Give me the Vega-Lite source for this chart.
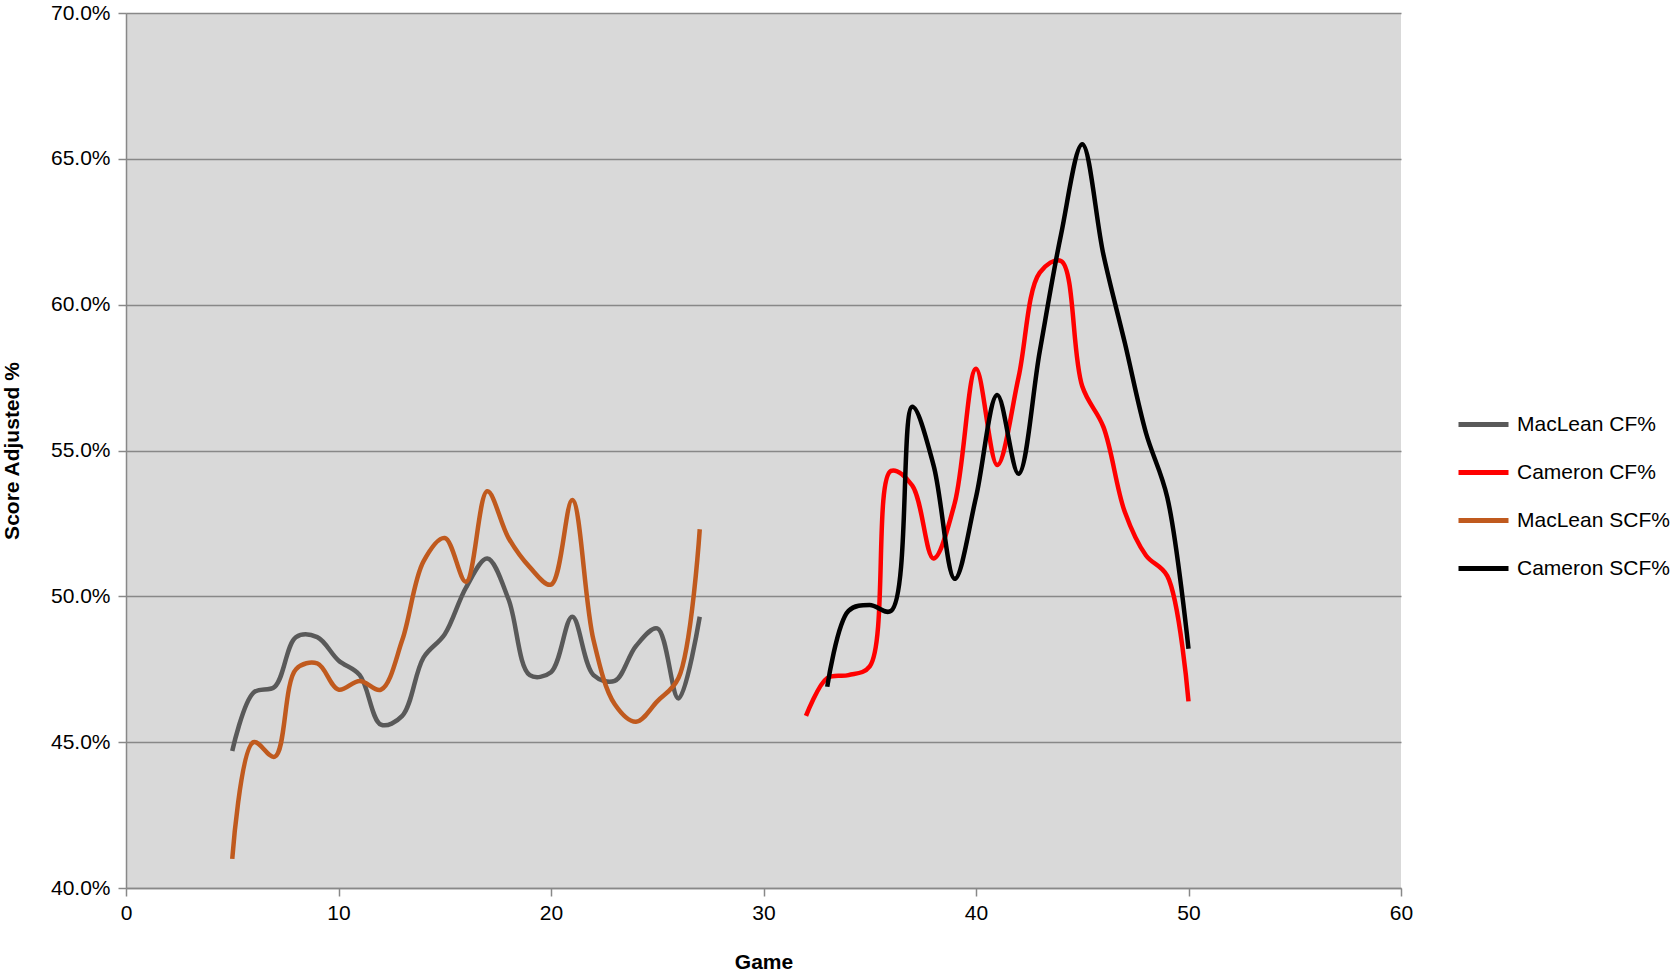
{
  "$schema": "https://vega.github.io/schema/vega-lite/v6.json",
  "width": 1275,
  "height": 875,
  "autosize": {"type": "none"},
  "padding": {"left": 126, "top": 13, "right": 272, "bottom": 88},
  "background": "white",
  "config": {
    "view": {"fill": "#d9d9d9", "stroke": null},
    "font": "Liberation Sans"
  },
  "data": {
    "values": [
      {"game": 5, "series": "MacLean CF%", "value": 44.7},
      {"game": 6, "series": "MacLean CF%", "value": 46.7},
      {"game": 7, "series": "MacLean CF%", "value": 46.9},
      {"game": 8, "series": "MacLean CF%", "value": 48.6},
      {"game": 9, "series": "MacLean CF%", "value": 48.6},
      {"game": 10, "series": "MacLean CF%", "value": 47.8},
      {"game": 11, "series": "MacLean CF%", "value": 47.3},
      {"game": 12, "series": "MacLean CF%", "value": 45.6},
      {"game": 13, "series": "MacLean CF%", "value": 45.9},
      {"game": 14, "series": "MacLean CF%", "value": 47.9},
      {"game": 15, "series": "MacLean CF%", "value": 48.7},
      {"game": 16, "series": "MacLean CF%", "value": 50.3},
      {"game": 17, "series": "MacLean CF%", "value": 51.3},
      {"game": 18, "series": "MacLean CF%", "value": 49.9},
      {"game": 19, "series": "MacLean CF%", "value": 47.3},
      {"game": 20, "series": "MacLean CF%", "value": 47.4},
      {"game": 21, "series": "MacLean CF%", "value": 49.3},
      {"game": 22, "series": "MacLean CF%", "value": 47.3},
      {"game": 23, "series": "MacLean CF%", "value": 47.1},
      {"game": 24, "series": "MacLean CF%", "value": 48.3},
      {"game": 25, "series": "MacLean CF%", "value": 48.9},
      {"game": 26, "series": "MacLean CF%", "value": 46.5},
      {"game": 27, "series": "MacLean CF%", "value": 49.3},
      {"game": 5, "series": "MacLean SCF%", "value": 41.0},
      {"game": 6, "series": "MacLean SCF%", "value": 45.0},
      {"game": 7, "series": "MacLean SCF%", "value": 44.5},
      {"game": 8, "series": "MacLean SCF%", "value": 47.5},
      {"game": 9, "series": "MacLean SCF%", "value": 47.7},
      {"game": 10, "series": "MacLean SCF%", "value": 46.8},
      {"game": 11, "series": "MacLean SCF%", "value": 47.1},
      {"game": 12, "series": "MacLean SCF%", "value": 46.8},
      {"game": 13, "series": "MacLean SCF%", "value": 48.5},
      {"game": 14, "series": "MacLean SCF%", "value": 51.2},
      {"game": 15, "series": "MacLean SCF%", "value": 52.0},
      {"game": 16, "series": "MacLean SCF%", "value": 50.5},
      {"game": 17, "series": "MacLean SCF%", "value": 53.6},
      {"game": 18, "series": "MacLean SCF%", "value": 52.0},
      {"game": 19, "series": "MacLean SCF%", "value": 51.0},
      {"game": 20, "series": "MacLean SCF%", "value": 50.4},
      {"game": 21, "series": "MacLean SCF%", "value": 53.3},
      {"game": 22, "series": "MacLean SCF%", "value": 48.5},
      {"game": 23, "series": "MacLean SCF%", "value": 46.3},
      {"game": 24, "series": "MacLean SCF%", "value": 45.7},
      {"game": 25, "series": "MacLean SCF%", "value": 46.4},
      {"game": 26, "series": "MacLean SCF%", "value": 47.2},
      {"game": 27, "series": "MacLean SCF%", "value": 52.3},
      {"game": 32, "series": "Cameron CF%", "value": 45.9},
      {"game": 33, "series": "Cameron CF%", "value": 47.2},
      {"game": 34, "series": "Cameron CF%", "value": 47.3},
      {"game": 35, "series": "Cameron CF%", "value": 47.6},
      {"game": 36, "series": "Cameron CF%", "value": 54.3},
      {"game": 37, "series": "Cameron CF%", "value": 53.8},
      {"game": 38, "series": "Cameron CF%", "value": 51.3},
      {"game": 39, "series": "Cameron CF%", "value": 53.2},
      {"game": 40, "series": "Cameron CF%", "value": 57.8},
      {"game": 41, "series": "Cameron CF%", "value": 54.5},
      {"game": 42, "series": "Cameron CF%", "value": 57.5},
      {"game": 43, "series": "Cameron CF%", "value": 61.1},
      {"game": 44, "series": "Cameron CF%", "value": 61.5},
      {"game": 45, "series": "Cameron CF%", "value": 57.2},
      {"game": 46, "series": "Cameron CF%", "value": 55.8},
      {"game": 47, "series": "Cameron CF%", "value": 52.9},
      {"game": 48, "series": "Cameron CF%", "value": 51.4},
      {"game": 49, "series": "Cameron CF%", "value": 50.7},
      {"game": 50, "series": "Cameron CF%", "value": 46.4},
      {"game": 33, "series": "Cameron SCF%", "value": 46.9},
      {"game": 34, "series": "Cameron SCF%", "value": 49.5},
      {"game": 35, "series": "Cameron SCF%", "value": 49.7},
      {"game": 36, "series": "Cameron SCF%", "value": 49.5},
      {"game": 37, "series": "Cameron SCF%", "value": 56.5},
      {"game": 38, "series": "Cameron SCF%", "value": 54.5},
      {"game": 39, "series": "Cameron SCF%", "value": 50.6},
      {"game": 40, "series": "Cameron SCF%", "value": 53.4},
      {"game": 41, "series": "Cameron SCF%", "value": 56.9},
      {"game": 42, "series": "Cameron SCF%", "value": 54.2},
      {"game": 43, "series": "Cameron SCF%", "value": 58.4},
      {"game": 44, "series": "Cameron SCF%", "value": 62.4},
      {"game": 45, "series": "Cameron SCF%", "value": 65.5},
      {"game": 46, "series": "Cameron SCF%", "value": 61.7},
      {"game": 47, "series": "Cameron SCF%", "value": 58.7},
      {"game": 48, "series": "Cameron SCF%", "value": 55.6},
      {"game": 49, "series": "Cameron SCF%", "value": 53.4},
      {"game": 50, "series": "Cameron SCF%", "value": 48.2}
    ]
  },
  "mark": {"type": "line", "interpolate": "catmull-rom", "strokeWidth": 4.5},
  "encoding": {
    "x": {
      "field": "game", "type": "quantitative", "title": "Game",
      "scale": {"domain": [0, 60], "nice": false},
      "axis": {"values": [0, 10, 20, 30, 40, 50, 60], "grid": false, "labelFlush": false, "labelFontSize": 21, "titleFontSize": 21, "titleFontWeight": "bold", "titleColor": "black", "labelColor": "black", "domainColor": "#888", "domainWidth": 1.5, "tickColor": "#888", "tickWidth": 1.5, "tickSize": 8, "labelPadding": 6, "titlePadding": 28}
    },
    "y": {
      "field": "value", "type": "quantitative", "title": "Score Adjusted %",
      "scale": {"domain": [40, 70], "nice": false, "zero": false},
      "axis": {"values": [40, 45, 50, 55, 60, 65, 70], "labelFlush": false, "labelExpr": "format(datum.value, '.1f') + '%'", "gridColor": "#888", "gridOpacity": 1, "gridWidth": 1.5, "labelFontSize": 21, "titleFontSize": 21, "titleFontWeight": "bold", "titleColor": "black", "labelColor": "black", "domainColor": "#888", "domainWidth": 1.5, "tickColor": "#888", "tickWidth": 1.5, "tickSize": 8, "labelPadding": 8, "titlePadding": 28}
    },
    "color": {
      "field": "series", "type": "nominal", "title": null,
      "scale": {"domain": ["MacLean CF%", "Cameron CF%", "MacLean SCF%", "Cameron SCF%"], "range": ["#595959", "#ff0000", "#c05a1e", "#000000"]},
      "legend": {"orient": "none", "legendX": 1330, "legendY": 384, "labelFontSize": 21, "labelColor": "black", "symbolType": "stroke", "symbolStrokeWidth": 5, "symbolSize": 2500, "rowPadding": 10, "labelLimit": 300, "labelOffset": 6}
    }
  }
}
